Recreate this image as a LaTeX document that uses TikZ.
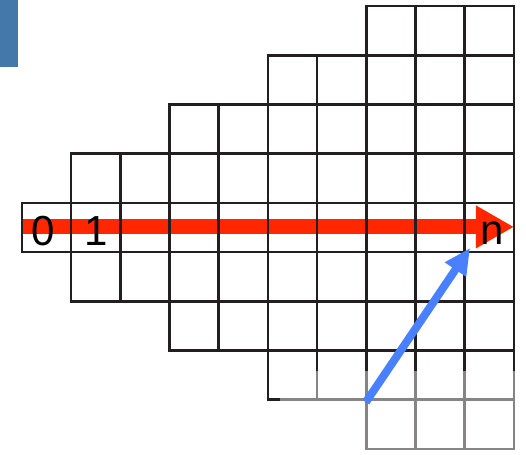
\documentclass[tikz,border=0pt]{standalone}
\usepackage{fontspec}
\setmainfont{Liberation Sans}
\usetikzlibrary{arrows.meta}
\definecolor{gridline}{HTML}{231F20}
\definecolor{tabblue}{HTML}{4477AA}
\definecolor{pathred}{HTML}{FF2600}
\definecolor{jumpblue}{HTML}{4880FF}

\begin{document}
\begin{tikzpicture}[x=24.6pt,y=-24.6pt,every node/.style={font=\fontsize{21}{21}\selectfont,inner sep=0pt,anchor=base},
    cell/.style={draw=gridline,line width=1.3pt}]
                \useasboundingbox (-0.447,-0.122) rectangle (10.244,9.106);
                \fill[tabblue] (-0.447,-0.122) rectangle (-0.081,1.24);
                \coordinate (redstart) at (0,4.49);
                \coordinate (redend) at (10,4.49);
                \draw[pathred,line width=7.5pt,-{Triangle[length=19pt,width=20pt]}] (redstart) -- (redend);
                \foreach \r/\a in {0/7,1/5,2/3,3/1,4/0,5/1,6/3,7/5,8/7}{
                    \draw[cell] (\a,\r) rectangle (10,\r+1);
                    \foreach \c in {\a,...,10}{
                        \draw[cell] (\c,\r) -- (\c,\r+1);
                    }
                }
                \node (zero) at (0.43,4.87) {0};
                \node (one) at (1.50,4.87) {1};
                \node (en) at (9.55,4.84) {n};
                % faded lower corner
                \fill[white,opacity=0.45] (5.24,7.42) rectangle (10.3,9.2);
                \coordinate (jumpfrom) at (6.99,8.05);
                \coordinate (jumpto) at (9.106,4.92);
                \draw[jumpblue,line width=4pt,-{Triangle[length=13pt,width=12pt]}] (jumpfrom) -- (jumpto);
            \end{tikzpicture}
\end{document}
